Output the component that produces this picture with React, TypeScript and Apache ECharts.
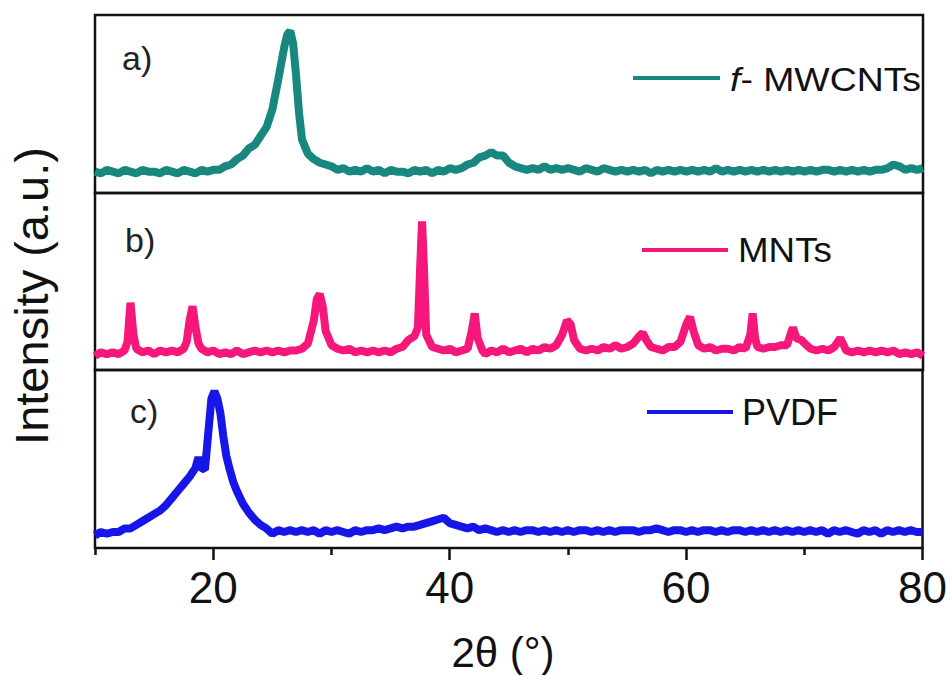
import React, { useEffect, useRef } from "react";
import * as echarts from "echarts";

// 2θ (°) vs intensity (a.u., % of panel height)
const mwcnts: [number, number][] = [
  [10, 12], [10.5, 11], [11, 13], [11.5, 12], [12, 11], [12.5, 13], [13, 12], [13.5, 11], [14, 13], [14.5, 12],
  [15, 12], [15.5, 11], [16, 13], [16.5, 12], [17, 11], [17.5, 13], [18, 12], [18.5, 11], [19, 13], [19.5, 12],
  [20, 13], [20.5, 13], [21, 15], [21.5, 16], [22, 19], [22.5, 21], [23, 25], [23.5, 27], [24, 32], [24.5, 37],
  [25, 47], [25.5, 64], [26, 82], [26.25, 89], [26.5, 91], [26.75, 84], [27, 66], [27.25, 45], [27.5, 30], [28, 22],
  [28.5, 19], [29, 17], [29.5, 16], [30, 15], [30.5, 13], [31, 14], [31.5, 12], [32, 13], [32.5, 12], [33, 14],
  [33.5, 12], [34, 13], [34.5, 11], [35, 13], [35.5, 12], [36, 12], [36.5, 11], [37, 13], [37.5, 12], [38, 13],
  [38.5, 11], [39, 13], [39.5, 12], [40, 14], [40.5, 13], [41, 14], [41.5, 16], [42, 17], [42.5, 20], [43, 21],
  [43.5, 23], [44, 21], [44.5, 21], [45, 17], [45.5, 15], [46, 14], [46.5, 13], [47, 14], [47.5, 13], [48, 15],
  [48.5, 13], [49, 14], [49.5, 13], [50, 14], [50.5, 13], [51, 12], [51.5, 14], [52, 13], [52.5, 12], [53, 14],
  [53.5, 13], [54, 12], [54.5, 13], [55, 12], [55.5, 13], [56, 12], [56.5, 13], [57, 11], [57.5, 13], [58, 12],
  [58.5, 13], [59, 12], [59.5, 13], [60, 12], [60.5, 13], [61, 12], [61.5, 13], [62, 12], [62.5, 14], [63, 12],
  [63.5, 13], [64, 12], [64.5, 13], [65, 12], [65.5, 13], [66, 12], [66.5, 13], [67, 12], [67.5, 13], [68, 12],
  [68.5, 13], [69, 12], [69.5, 13], [70, 12], [70.5, 13], [71, 12], [71.5, 13], [72, 13], [72.5, 12], [73, 13],
  [73.5, 12], [74, 13], [74.5, 12], [75, 13], [75.5, 12], [76, 13], [76.5, 13], [77, 14], [77.5, 16], [78, 15],
  [78.5, 13], [79, 14], [79.5, 13], [80, 14],
];

const mnts: [number, number][] = [
  [10, 8], [10.5, 10], [11, 9], [11.5, 10], [12, 9], [12.5, 11], [12.75, 16], [13, 38], [13.25, 20], [13.5, 12],
  [14, 10], [14.5, 11], [15, 9], [15.5, 11], [16, 10], [16.5, 11], [17, 10], [17.5, 12], [17.75, 16], [18, 28],
  [18.25, 36], [18.5, 24], [18.75, 15], [19, 12], [19.5, 10], [20, 11], [20.5, 9], [21, 10], [21.5, 9], [22, 11],
  [22.5, 9], [23, 10], [23.5, 11], [24, 10], [24.5, 11], [25, 10], [25.5, 11], [26, 10], [26.5, 11], [27, 11],
  [27.5, 12], [28, 15], [28.5, 28], [28.75, 40], [29, 43], [29.25, 36], [29.5, 22], [30, 14], [30.5, 12], [31, 11],
  [31.5, 12], [32, 10], [32.5, 11], [33, 10], [33.5, 11], [34, 10], [34.5, 11], [35, 10], [35.5, 12], [36, 13],
  [36.5, 17], [37, 19], [37.3, 24], [37.5, 60], [37.65, 84], [37.8, 60], [38, 20], [38.5, 13], [39, 12], [39.5, 11],
  [40, 12], [40.5, 10], [41, 11], [41.5, 12], [41.85, 22], [42.1, 32], [42.35, 18], [42.75, 11], [43, 9], [43.5, 11],
  [44, 10], [44.5, 12], [45, 10], [45.5, 11], [46, 12], [46.5, 10], [47, 12], [47.5, 11], [48, 13], [48.5, 12],
  [49, 14], [49.5, 20], [49.9, 28], [50.2, 26], [50.5, 17], [51, 12], [51.5, 11], [52, 12], [52.5, 11], [53, 13],
  [53.5, 12], [54, 14], [54.5, 12], [55, 13], [55.5, 15], [56, 19], [56.3, 21], [56.6, 17], [57, 13], [57.5, 12],
  [58, 11], [58.5, 13], [59, 13], [59.5, 16], [60, 26], [60.3, 30], [60.6, 22], [61, 14], [61.5, 12], [62, 13],
  [62.5, 11], [63, 12], [63.5, 12], [64, 11], [64.5, 13], [65, 12], [65.4, 20], [65.6, 32], [65.8, 18], [66, 13],
  [66.5, 12], [67, 13], [67.5, 13], [68, 14], [68.5, 14], [68.8, 20], [69, 24], [69.3, 18], [69.7, 17], [70, 15],
  [70.5, 12], [71, 11], [71.5, 12], [72, 11], [72.5, 13], [73, 18], [73.3, 14], [73.5, 11], [74, 10], [74.5, 11],
  [75, 10], [75.5, 11], [76, 10], [76.5, 11], [77, 10], [77.5, 11], [78, 9], [78.5, 10], [79, 9], [79.5, 10],
  [80, 8],
];

const pvdf: [number, number][] = [
  [10, 7], [10.5, 9], [11, 8], [11.5, 9], [12, 9], [12.5, 11], [13, 11], [13.5, 13], [14, 15], [14.5, 17],
  [15, 19], [15.5, 21], [16, 24], [16.5, 28], [17, 32], [17.5, 36], [18, 40], [18.5, 45], [18.75, 51], [19, 45],
  [19.3, 44], [19.6, 66], [19.85, 84], [20.1, 88], [20.35, 84], [20.6, 76], [20.85, 63], [21.1, 52], [21.4, 44], [21.7, 37],
  [22, 32], [22.5, 25], [23, 20], [23.5, 16], [24, 13], [24.5, 11], [25, 8], [25.5, 10], [26, 9], [26.5, 10],
  [27, 9], [27.5, 10], [28, 9], [28.5, 10], [29, 8], [29.5, 10], [30, 9], [30.5, 10], [31, 9], [31.5, 8],
  [32, 10], [32.5, 9], [33, 10], [33.5, 10], [34, 11], [34.5, 10], [35, 11], [35.5, 12], [36, 11], [36.5, 12],
  [37, 12], [37.5, 13], [38, 14], [38.5, 15], [39, 16], [39.5, 17], [40, 14], [40.5, 13], [41, 12], [41.5, 11],
  [42, 12], [42.5, 10], [43, 11], [43.5, 10], [44, 9], [44.5, 10], [45, 9], [45.5, 10], [46, 9], [46.5, 10],
  [47, 10], [47.5, 9], [48, 10], [48.5, 9], [49, 10], [49.5, 9], [50, 10], [50.5, 9], [51, 10], [51.5, 10],
  [52, 9], [52.5, 10], [53, 9], [53.5, 10], [54, 9], [54.5, 10], [55, 10], [55.5, 10], [56, 9], [56.5, 10],
  [57, 10], [57.5, 11], [58, 10], [58.5, 9], [59, 10], [59.5, 10], [60, 9], [60.5, 10], [61, 9], [61.5, 10],
  [62, 10], [62.5, 9], [63, 10], [63.5, 9], [64, 10], [64.5, 10], [65, 9], [65.5, 10], [66, 9], [66.5, 10],
  [67, 9], [67.5, 10], [68, 9], [68.5, 10], [69, 9], [69.5, 10], [70, 9], [70.5, 10], [71, 9], [71.5, 10],
  [72, 8], [72.5, 10], [73, 9], [73.5, 10], [74, 9], [74.5, 8], [75, 10], [75.5, 9], [76, 10], [76.5, 8],
  [77, 10], [77.5, 9], [78, 10], [78.5, 9], [79, 10], [79.5, 9], [80, 9],
];

const seriesNames = ["f- MWCNTs", "MNTs", "PVDF"];
const panelLabels = ["a)", "b)", "c)"];
const majorTicks = [20, 40, 60, 80];
const minorTicks = [10, 30, 50, 70];
const colors = ["#17877f", "#f5177a", "#1616e8"];

const FONT = "'Liberation Sans', Arial, sans-serif";

export default function App() {
  const ref = useRef<HTMLDivElement>(null);
  useEffect(() => {
    if (!ref.current) return;
    const chart = echarts.init(ref.current, undefined, { renderer: "svg" });
    const gridBase = {
      left: 95,
      right: 27,
      show: true,
      borderColor: "#111",
      borderWidth: 2.5,
      backgroundColor: "transparent",
    };
    const hiddenX = (i: number) => ({
      gridIndex: i,
      type: "value",
      min: 10,
      max: 80,
      interval: 10,
      show: false,
    });
    const option: any = {
      animation: false,
      backgroundColor: "#fff",
      grid: [
        { ...gridBase, top: 15, height: 178 },
        { ...gridBase, top: 193, height: 177 },
        { ...gridBase, top: 370, height: 178 },
      ],
      xAxis: [
        hiddenX(0),
        hiddenX(1),
        {
          gridIndex: 2,
          type: "value",
          min: 10,
          max: 80,
          interval: 10,
          position: "bottom",
          axisLine: { show: false },
          splitLine: { show: false },
          axisTick: {
            show: true,
            length: 12,
            customValues: majorTicks,
            lineStyle: { color: "#111", width: 2.5 },
          },
          axisLabel: {
            customValues: majorTicks,
            fontSize: 44,
            fontFamily: FONT,
            color: "#111",
            margin: 17,
          },
        },
        {
          gridIndex: 2,
          type: "value",
          min: 10,
          max: 80,
          interval: 10,
          position: "bottom",
          axisLine: { show: false },
          splitLine: { show: false },
          axisTick: {
            show: true,
            length: 7,
            customValues: minorTicks,
            lineStyle: { color: "#111", width: 2.5 },
          },
          axisLabel: { show: false },
        },
      ],
      yAxis: [0, 1, 2].map((i) => ({
        gridIndex: i,
        type: "value",
        min: 0,
        max: 100,
        show: false,
      })),
      series: [mwcnts, mnts, pvdf].map((d, i) => ({
        name: seriesNames[i],
        type: "line",
        xAxisIndex: i,
        yAxisIndex: i,
        data: d,
        showSymbol: false,
        symbol: "none",
        lineStyle: { color: colors[i], width: 8 },
        clip: true,
        z: 2,
      })),
      graphic: [
        ...panelLabels.map((t, i) => ({
          type: "text",
          x: [122, 125, 130][i],
          y: [58, 240, 411][i],
          style: {
            text: t,
            font: `34px ${FONT}`,
            fill: "#222",
            textAlign: "left",
            textVerticalAlign: "middle",
          },
          z: 10,
        })),
        ...[0, 1, 2].map((i) => ({
          type: "line",
          shape: {
            x1: [633, 642, 647][i],
            y1: [78, 250, 412][i],
            x2: [720, 728, 733][i],
            y2: [78, 250, 412][i],
          },
          style: { stroke: colors[i], lineWidth: 4 },
          z: 10,
        })),
        {
          type: "text",
          x: 730,
          y: 80,
          scaleX: 1.1,
          style: {
            text: "{i|f}{n|- MWCNTs}",
            rich: {
              i: { font: `italic 34px ${FONT}`, fill: "#111" },
              n: { font: `34px ${FONT}`, fill: "#111" },
            },
            textAlign: "left",
            textVerticalAlign: "middle",
          },
          z: 10,
        },
        {
          type: "text",
          x: 738,
          y: 250,
          scaleX: 1.05,
          style: {
            text: seriesNames[1],
            font: `35px ${FONT}`,
            fill: "#111",
            textAlign: "left",
            textVerticalAlign: "middle",
          },
          z: 10,
        },
        {
          type: "text",
          x: 742,
          y: 412,
          style: {
            text: seriesNames[2],
            font: `36px ${FONT}`,
            fill: "#111",
            textAlign: "left",
            textVerticalAlign: "middle",
          },
          z: 10,
        },
        {
          type: "text",
          x: 31,
          y: 296,
          rotation: Math.PI / 2,
          style: {
            text: "Intensity (a.u.)",
            font: `47px ${FONT}`,
            fill: "#111",
            textAlign: "center",
            textVerticalAlign: "middle",
          },
          z: 10,
        },
        {
          type: "text",
          x: 503,
          y: 652,
          style: {
            text: "2θ (°)",
            font: `42px ${FONT}`,
            fill: "#111",
            textAlign: "center",
            textVerticalAlign: "middle",
          },
          z: 10,
        },
      ],
    };
    chart.setOption(option);
    return () => chart.dispose();
  }, []);
  return <div ref={ref} style={{ width: 950, height: 675, position: "absolute", left: 0, top: 0 }} />;
}
